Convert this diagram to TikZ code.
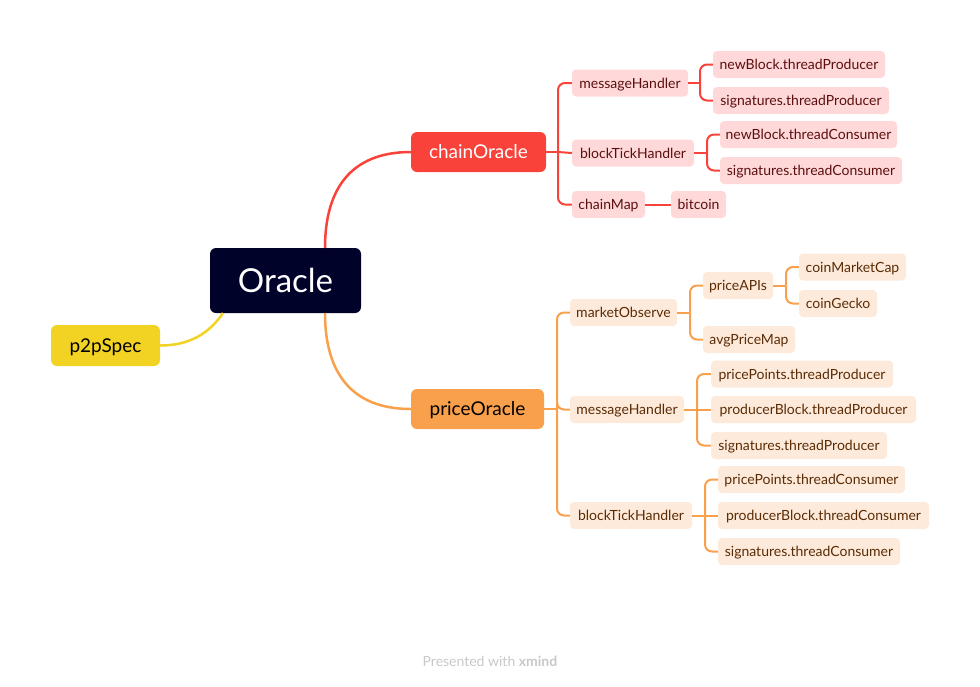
\documentclass[tikz,border=0pt]{standalone}
\usepackage{fontspec}
\setmainfont{Lato}
\definecolor{rootc}{HTML}{000229}
\definecolor{redc}{HTML}{F9423A}
\definecolor{redl}{HTML}{FFD9D9}
\definecolor{redt}{HTML}{5C0E0E}
\definecolor{orc}{HTML}{F8A04C}
\definecolor{orl}{HTML}{FEEADA}
\definecolor{ort}{HTML}{5A2C06}
\definecolor{yec}{HTML}{F2D324}
\definecolor{foot}{HTML}{C8C8C8}
\tikzset{
  base/.style={rounded corners=4pt, inner sep=0pt, align=center},
  leafR/.style={base, fill=redl, text=redt, minimum height=27pt, text height=10pt, text depth=0pt, font=\fontsize{14}{16}\selectfont},
  leafO/.style={base, fill=orl, text=ort, minimum height=27pt, text height=10pt, text depth=0pt, font=\fontsize{14}{16}\selectfont},
  mainbox/.style={base, rounded corners=6pt, minimum height=40pt, text height=13.5pt, text depth=0pt, font=\fontsize{19}{22}\selectfont},
  lR/.style={draw=redc, line width=2pt, rounded corners=7pt},
  lO/.style={draw=orc, line width=2pt, rounded corners=7pt},
}
\begin{document}
\begin{tikzpicture}[x=1pt,y=-1pt]
\useasboundingbox (0,0) rectangle (980,686);
% main nodes
\node[base, rounded corners=6pt, fill=rootc, text=white, minimum width=151pt, minimum height=65pt, text height=23.5pt, text depth=0pt, font=\fontsize{33}{36}\selectfont] (oracle) at (285.5,280.5) {Oracle};
\node[mainbox, fill=yec, text=black, minimum width=109pt, minimum height=41pt] (p2p) at (105.5,345.5) {p2pSpec};
\node[mainbox, fill=redc, text=white, minimum width=135pt] (chain) at (478.5,152) {chainOracle};
\node[mainbox, fill=orc, text=black, minimum width=133pt] (price) at (477.5,409) {priceOracle};
% chain children
\node[leafR, minimum width=116pt] (cmh) at (630,83) {messageHandler};
\node[leafR, minimum width=122pt] (cbt) at (633,153) {blockTickHandler};
\node[leafR, minimum width=73pt] (cmap) at (608.5,204.5) {chainMap};
\node[leafR, minimum width=172pt] (cnbp) at (799,64.5) {newBlock.threadProducer};
\node[leafR, minimum width=176pt] (csp) at (801,100.5) {signatures.threadProducer};
\node[leafR, minimum width=177pt] (cnbc) at (808.5,134.5) {newBlock.threadConsumer};
\node[leafR, minimum width=182pt] (csc) at (811,170.5) {signatures.threadConsumer};
\node[leafR, minimum width=55pt] (btc) at (698.5,204.5) {bitcoin};
% price children
\node[leafO, minimum width=107pt] (pmo) at (623.5,312.5) {marketObserve};
\node[leafO, minimum width=114pt] (pmh) at (627,409.5) {messageHandler};
\node[leafO, minimum width=122pt] (pbt) at (631,515.5) {blockTickHandler};
\node[leafO, minimum width=70pt] (papi) at (738,285.5) {priceAPIs};
\node[leafO, minimum width=92pt] (pavg) at (749,339.5) {avgPriceMap};
\node[leafO, minimum width=107pt] (pcmc) at (852.5,267) {coinMarketCap};
\node[leafO, minimum width=78pt] (pcg) at (838,303.5) {coinGecko};
\node[leafO, minimum width=182pt] (pppp) at (802,374) {pricePoints.threadProducer};
\node[leafO, minimum width=205pt] (ppbp) at (813.5,409.5) {producerBlock.threadProducer};
\node[leafO, minimum width=176pt] (psp) at (799,445.5) {signatures.threadProducer};
\node[leafO, minimum width=187pt] (pppc) at (811.5,479.5) {pricePoints.threadConsumer};
\node[leafO, minimum width=211pt] (ppbc) at (823.5,515.5) {producerBlock.threadConsumer};
\node[leafO, minimum width=182pt] (psc) at (809,551.5) {signatures.threadConsumer};
% footer
\node[text=foot, font=\fontsize{14}{16}\selectfont] (footer) at (490,661) {Presented with \textbf{xmind}};
% root connectors
\coordinate (oTop) at (325,248);
\coordinate (oBot) at (325,313);
\coordinate (oLeft) at (223,313);
\draw[draw=redc, line width=2.5pt] (oTop) .. controls (325,190) and (350,152) .. (chain.west);
\draw[draw=orc, line width=2.5pt] (oBot) .. controls (325,371) and (350,409) .. (price.west);
\draw[draw=yec, line width=2.5pt] (oLeft) .. controls (205,340) and (180,345.5) .. (p2p.east);
% chain branches
\coordinate (cj) at (558,152);
\draw[lR] (chain.east) -- (cj);
\draw[lR] (cj) |- (cmh.west);
\draw[lR] (cj) -- (cbt.west);
\draw[lR] (cj) |- (cmap.west);
\coordinate (cj1) at (700,83);
\draw[lR] (cmh.east) -- (cj1);
\draw[lR] (cj1) |- (cnbp.west);
\draw[lR] (cj1) |- (csp.west);
\coordinate (cj2) at (707,153);
\draw[lR] (cbt.east) -- (cj2);
\draw[lR] (cj2) |- (cnbc.west);
\draw[lR] (cj2) |- (csc.west);
\draw[lR] (cmap.east) -- (btc.west);
% price branches
\coordinate (pj) at (557,409);
\draw[lO] (price.east) -- (pj);
\draw[lO] (pj) |- (pmo.west);
\draw[lO] (pj) |- (pmh.west);
\draw[lO] (pj) |- (pbt.west);
\coordinate (pj1) at (690,312.5);
\draw[lO] (pmo.east) -- (pj1);
\draw[lO] (pj1) |- (papi.west);
\draw[lO] (pj1) |- (pavg.west);
\coordinate (pj2) at (786,285.5);
\draw[lO] (papi.east) -- (pj2);
\draw[lO] (pj2) |- (pcmc.west);
\draw[lO] (pj2) |- (pcg.west);
\coordinate (pj3) at (697,409.5);
\draw[lO] (pmh.east) -- (pj3);
\draw[lO] (pj3) |- (pppp.west);
\draw[lO] (pj3) -- (ppbp.west);
\draw[lO] (pj3) |- (psp.west);
\coordinate (pj4) at (705,515.5);
\draw[lO] (pbt.east) -- (pj4);
\draw[lO] (pj4) |- (pppc.west);
\draw[lO] (pj4) -- (ppbc.west);
\draw[lO] (pj4) |- (psc.west);
\end{tikzpicture}
\end{document}
